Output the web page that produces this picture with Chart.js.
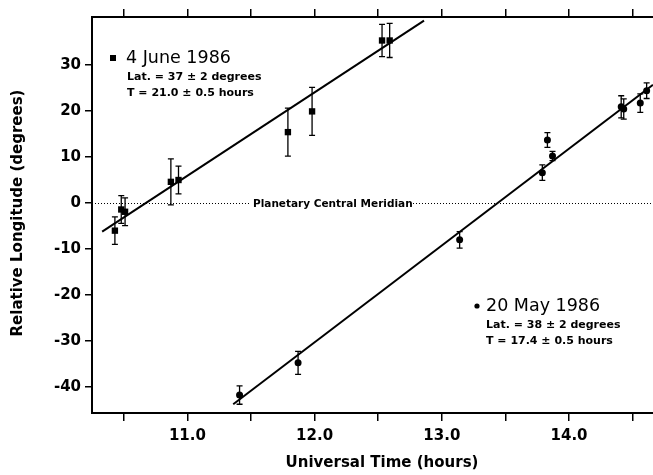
<!DOCTYPE html>
<html>
<head>
<meta charset="utf-8">
<script src="https://cdn.jsdelivr.net/npm/chart.js@4/dist/chart.umd.min.js"></script>
<style>
  html, body { margin: 0; padding: 0; background: #fff; }
  #wrap { width: 653px; height: 475px; }
</style>
</head>
<body>
<div id="wrap"><canvas id="c"></canvas></div>
<script>
// ---- data ----
const juneX   = [10.43, 10.48, 10.51, 10.87, 10.93, 11.79, 11.98, 12.53, 12.59];
const juneY   = [-6.0, -1.4, -1.9, 4.6, 5.0, 15.4, 19.9, 35.3, 35.3];
const juneErr = [3.0, 3.0, 3.0, 5.0, 3.0, 5.2, 5.2, 3.5, 3.7];

const mayX   = [11.41, 11.87, 13.14, 13.79, 13.83, 13.87, 14.41, 14.43, 14.56, 14.61];
const mayY   = [-41.7, -34.7, -8.0, 6.6, 13.7, 10.2, 20.9, 20.4, 21.7, 24.4];
const mayErr = [2.0, 2.5, 1.8, 1.7, 1.6, 1.0, 2.4, 2.2, 2.0, 1.7];

// fitted lines (end points)
const juneFitX = [10.33, 12.86];
const juneFitY = [-6.2, 39.6];
const mayFitX  = [11.36, 14.66];
const mayFitY  = [-43.7, 25.7];

const xTicks = [10.5, 11.0, 11.5, 12.0, 12.5, 13.0, 13.5, 14.0, 14.5];
const xLabeled = [11.0, 12.0, 13.0, 14.0];
const yTicks = [-40, -30, -20, -10, 0, 10, 20, 30];
const meridianY = 0;

const FONT = '"DejaVu Sans", sans-serif';

function pts(xs, ys, err) {
    return xs.map((x, i) => ({ x: x, y: ys[i], e: err ? err[i] : 0 }));
}

// error bars with small caps
const errorBars = {
    id: 'errorBars',
    afterDatasetsDraw(chart) {
        const ctx = chart.ctx;
        const xs = chart.scales.x, ys = chart.scales.y;
        ctx.save();
        ctx.strokeStyle = '#000';
        ctx.lineWidth = 1.3;
        chart.data.datasets.forEach(ds => {
            if (!ds.errorBars) return;
            ds.data.forEach(p => {
                const px = xs.getPixelForValue(p.x);
                const top = ys.getPixelForValue(p.y + p.e);
                const bot = ys.getPixelForValue(p.y - p.e);
                ctx.beginPath();
                ctx.moveTo(px, top); ctx.lineTo(px, bot);
                ctx.moveTo(px - 3, top); ctx.lineTo(px + 3, top);
                ctx.moveTo(px - 3, bot); ctx.lineTo(px + 3, bot);
                ctx.stroke();
            });
        });
        ctx.restore();
    }
};

// dotted central meridian + text annotations
const notes = {
    id: 'notes',
    beforeDatasetsDraw(chart) {
        const ctx = chart.ctx, a = chart.chartArea;
        const y0 = Math.round(chart.scales.y.getPixelForValue(meridianY)) + 0.5;
        ctx.save();
        ctx.strokeStyle = '#000';
        ctx.lineWidth = 1;
        ctx.setLineDash([1, 2]);
        ctx.beginPath();
        ctx.moveTo(a.left, y0); ctx.lineTo(250, y0);
        ctx.moveTo(410, y0); ctx.lineTo(a.right, y0);
        ctx.stroke();
        ctx.setLineDash([]);
        ctx.fillStyle = '#000';
        ctx.font = 'bold 10.5px ' + FONT;
        ctx.textBaseline = 'middle';
        ctx.fillText('Planetary Central Meridian', 253, y0 + 1);
        ctx.restore();
    },
    afterDraw(chart) {
        const ctx = chart.ctx;
        ctx.save();
        ctx.fillStyle = '#000';
        ctx.textBaseline = 'middle';
        // 4 June block
        ctx.fillRect(110, 55, 6, 6);
        ctx.font = '17.5px ' + FONT;
        ctx.fillText('4 June 1986', 126, 58);
        ctx.font = 'bold 11px ' + FONT;
        ctx.fillText('Lat. = 37 \u00b1 2 degrees', 127, 77);
        ctx.fillText('T = 21.0 \u00b1 0.5 hours', 127, 93);
        // 20 May block
        ctx.beginPath();
        ctx.arc(477, 306, 2.6, 0, Math.PI * 2);
        ctx.fill();
        ctx.font = '17.5px ' + FONT;
        ctx.fillText('20 May 1986', 486, 306);
        ctx.font = 'bold 11px ' + FONT;
        ctx.fillText('Lat. = 38 \u00b1 2 degrees', 486, 325);
        ctx.fillText('T = 17.4 \u00b1 0.5 hours', 486, 341);
        // axis titles
        ctx.font = 'bold 15px ' + FONT;
        ctx.textAlign = 'center';
        ctx.fillText('Universal Time (hours)', 382, 463);
        ctx.translate(18, 213);
        ctx.rotate(-Math.PI / 2);
        ctx.fillText('Relative Longitude (degrees)', 0, 0);
        ctx.restore();
    }
};

const tickFont = { family: FONT, size: 15, weight: 'bold' };
const noSidePad = s => { s.paddingLeft = 0; s.paddingRight = 0; };

new Chart(document.getElementById('c'), {
    type: 'scatter',
    data: {
        datasets: [
            {
                label: '4 June 1986',
                data: pts(juneX, juneY, juneErr),
                errorBars: true,
                pointStyle: 'rect',
                pointRadius: 4.5,
                backgroundColor: '#000',
                borderColor: '#000',
                borderWidth: 0
            },
            {
                label: '20 May 1986',
                data: pts(mayX, mayY, mayErr),
                errorBars: true,
                pointStyle: 'circle',
                pointRadius: 3.5,
                backgroundColor: '#000',
                borderColor: '#000',
                borderWidth: 0
            },
            {
                type: 'line',
                label: 'fit June',
                data: pts(juneFitX, juneFitY),
                borderColor: '#000',
                borderWidth: 2,
                pointRadius: 0,
                fill: false
            },
            {
                type: 'line',
                label: 'fit May',
                data: pts(mayFitX, mayFitY),
                borderColor: '#000',
                borderWidth: 2,
                pointRadius: 0,
                fill: false
            }
        ]
    },
    options: {
        responsive: true,
        maintainAspectRatio: false,
        animation: false,
        layout: { padding: 0, autoPadding: false },
        plugins: {
            legend: { display: false },
            tooltip: { enabled: false }
        },
        scales: {
            x: {
                type: 'linear',
                position: 'bottom',
                min: 10.25,
                max: 14.66,
                afterBuildTicks: s => { s.ticks = xTicks.map(v => ({ value: v })); },
                afterFit: s => { s.height = 62; noSidePad(s); },
                border: { display: true, color: '#000', width: 2 },
                grid: { drawOnChartArea: false, drawTicks: true, tickLength: 8, color: '#000', lineWidth: 1.5 },
                ticks: {
                    color: '#000',
                    font: tickFont,
                    padding: 6,
                    maxRotation: 0,
                    autoSkip: false,
                    callback: v => xLabeled.includes(v) ? v.toFixed(1) : ''
                }
            },
            x2: {
                type: 'linear',
                position: 'top',
                min: 10.25,
                max: 14.66,
                afterBuildTicks: s => { s.ticks = xTicks.map(v => ({ value: v })); },
                afterFit: s => { s.height = 17; noSidePad(s); },
                border: { display: true, color: '#000', width: 2 },
                grid: { drawOnChartArea: false, drawTicks: true, tickLength: 8, color: '#000', lineWidth: 1.5 },
                ticks: { display: false }
            },
            y: {
                type: 'linear',
                min: -45.6,
                max: 40.4,
                afterBuildTicks: s => { s.ticks = yTicks.map(v => ({ value: v })); },
                afterFit: s => { s.width = 92; s.paddingTop = 0; s.paddingBottom = 0; },
                border: { display: true, color: '#000', width: 2 },
                grid: { drawOnChartArea: false, drawTicks: true, tickLength: 7, color: '#000', lineWidth: 1.5 },
                ticks: { color: '#000', font: tickFont, padding: 4 }
            }
        }
    },
    plugins: [errorBars, notes]
});
</script>
</body>
</html>
